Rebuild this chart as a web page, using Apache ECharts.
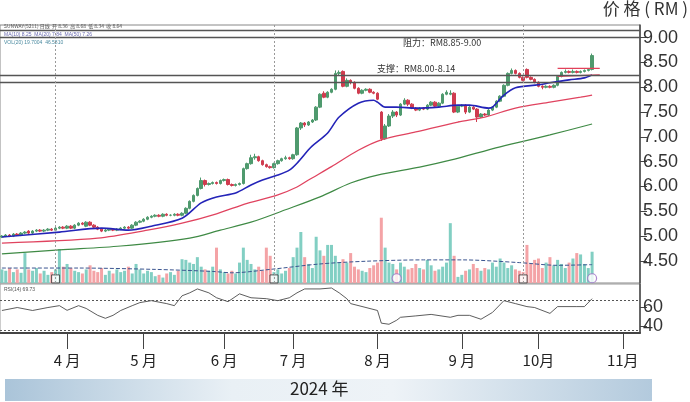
<!DOCTYPE html>
<html><head><meta charset="utf-8">
<script src="https://cdn.jsdelivr.net/npm/echarts@6/dist/echarts.min.js"></script>
<style>html,body{margin:0;padding:0;background:#fff}#c{width:690px;height:402px}</style>
</head><body><div id="c"></div>
<script>
// ---------- data ----------
const startDate = '2024-03-06';
const endDate = '2024-11-07';
const holidays = ['2024-03-28','2024-04-10','2024-04-11','2024-05-01','2024-05-22','2024-06-03','2024-06-17','2024-07-08','2024-09-16','2024-10-31'];
const monthNames = {4:'4 月',5:'5 月',6:'6 月',7:'7 月',8:'8 月',9:'9 月',10:'10月',11:'11月'};

// [open, close, low, high]
const candles = [
[4.98,5.00,4.96,5.02],[5.00,5.02,4.98,5.04],[5.02,5.00,4.98,5.04],[5.00,5.04,4.98,5.06],[5.04,5.02,5.00,5.06],
[5.02,5.06,5.00,5.08],[5.06,5.08,5.04,5.10],[5.10,5.06,5.04,5.12],[5.06,5.10,5.04,5.12],[5.10,5.12,5.08,5.14],
[5.12,5.10,5.08,5.14],[5.10,5.12,5.08,5.14],[5.12,5.14,5.10,5.16],[5.14,5.12,5.10,5.16],[5.12,5.16,5.10,5.18],
[5.16,5.18,5.14,5.20],[5.18,5.16,5.14,5.20],[5.16,5.20,5.14,5.22],[5.20,5.16,5.14,5.22],[5.16,5.22,5.14,5.24],
[5.22,5.26,5.20,5.28],[5.26,5.24,5.22,5.28],[5.20,5.28,5.18,5.30],[5.28,5.22,5.20,5.30],[5.22,5.18,5.16,5.24],
[5.18,5.14,5.12,5.20],[5.14,5.10,5.08,5.16],[5.10,5.12,5.08,5.14],[5.12,5.14,5.10,5.16],[5.14,5.12,5.10,5.16],
[5.12,5.14,5.10,5.16],[5.14,5.16,5.12,5.18],[5.16,5.18,5.14,5.20],[5.18,5.16,5.14,5.20],[5.16,5.22,5.14,5.24],
[5.22,5.28,5.20,5.30],[5.28,5.30,5.26,5.32],[5.30,5.34,5.28,5.36],[5.34,5.38,5.32,5.40],[5.38,5.40,5.36,5.42],
[5.40,5.42,5.38,5.44],[5.42,5.40,5.38,5.44],[5.40,5.44,5.38,5.46],[5.44,5.42,5.40,5.46],[5.42,5.42,5.40,5.44],
[5.42,5.44,5.40,5.46],[5.44,5.42,5.40,5.46],[5.42,5.46,5.40,5.48],[5.46,5.56,5.44,5.58],[5.56,5.70,5.54,5.72],
[5.70,5.82,5.68,5.84],[5.82,5.96,5.80,5.98],[5.96,6.12,5.94,6.18],[6.12,6.04,6.00,6.14],[6.04,6.06,6.02,6.08],
[6.06,6.08,6.04,6.10],[6.08,6.06,6.04,6.10],[6.06,6.12,6.04,6.14],[6.12,6.14,6.10,6.16],[6.14,6.04,6.02,6.16],
[6.04,6.02,6.00,6.06],[6.02,6.04,6.00,6.06],[6.04,6.06,6.02,6.08],[6.06,6.36,6.04,6.38],[6.36,6.46,6.34,6.48],
[6.46,6.58,6.44,6.64],[6.58,6.60,6.54,6.66],[6.60,6.52,6.50,6.62],[6.52,6.44,6.42,6.54],[6.44,6.40,6.38,6.46],
[6.40,6.38,6.36,6.42],[6.38,6.46,6.36,6.48],[6.46,6.52,6.44,6.54],[6.52,6.56,6.50,6.58],[6.56,6.58,6.54,6.62],
[6.58,6.56,6.54,6.60],[6.56,6.64,6.54,6.66],[6.64,7.18,6.62,7.20],[7.18,7.28,7.14,7.30],[7.28,7.24,7.20,7.30],
[7.24,7.30,7.22,7.32],[7.30,7.34,7.28,7.36],[7.34,7.60,7.32,7.62],[7.60,7.86,7.58,7.88],[7.88,7.80,7.78,7.92],
[7.80,7.90,7.78,7.92],[7.90,7.96,7.88,7.98],[7.96,8.28,7.94,8.34],[8.28,8.30,8.24,8.34],[8.32,8.02,8.00,8.34],
[8.02,8.14,8.00,8.18],[8.14,8.10,8.06,8.16],[8.10,7.98,7.96,8.12],[7.98,7.88,7.86,8.00],[7.88,7.94,7.86,7.96],
[7.94,7.96,7.92,7.98],[7.96,7.90,7.88,7.98],[7.90,7.88,7.86,7.92],[7.88,7.76,7.74,7.90],[7.50,6.96,6.92,7.52],
[6.96,7.22,6.94,7.26],[7.22,7.42,7.20,7.46],[7.42,7.50,7.38,7.54],[7.50,7.44,7.40,7.52],[7.44,7.66,7.42,7.68],
[7.66,7.74,7.64,7.78],[7.74,7.66,7.62,7.76],[7.66,7.58,7.56,7.68],[7.58,7.54,7.52,7.60],[7.54,7.58,7.52,7.60],
[7.58,7.56,7.54,7.60],[7.56,7.64,7.54,7.66],[7.64,7.70,7.62,7.72],[7.70,7.62,7.60,7.72],[7.62,7.68,7.60,7.70],
[7.68,7.86,7.66,7.88],[7.86,7.90,7.84,7.94],[7.86,7.88,7.84,7.94],[7.88,7.50,7.48,7.90],[7.50,7.62,7.48,7.64],
[7.62,7.64,7.60,7.66],[7.64,7.50,7.46,7.66],[7.50,7.60,7.48,7.62],[7.60,7.56,7.54,7.62],[7.56,7.40,7.30,7.58],
[7.40,7.46,7.38,7.48],[7.46,7.44,7.42,7.48],[7.44,7.54,7.42,7.56],[7.54,7.60,7.52,7.62],[7.60,7.72,7.58,7.74],
[7.72,7.82,7.70,7.84],[7.82,8.04,7.80,8.06],[8.04,8.28,8.02,8.30],[8.28,8.34,8.26,8.38],[8.34,8.28,8.26,8.36],
[8.28,8.20,8.18,8.30],[8.20,8.14,8.12,8.22],[8.36,8.20,8.18,8.38],[8.20,8.16,8.14,8.22],[8.16,8.10,8.08,8.18],
[8.10,8.02,8.00,8.12],[8.02,8.00,7.96,8.04],[8.00,8.02,7.98,8.04],[8.02,8.00,7.98,8.04],[8.00,8.04,7.98,8.06],
[8.04,8.22,8.02,8.24],[8.22,8.30,8.20,8.32],[8.30,8.32,8.28,8.36],[8.32,8.30,8.28,8.34],[8.30,8.32,8.28,8.36],
[8.32,8.30,8.28,8.34],[8.30,8.32,8.28,8.34],[8.32,8.34,8.30,8.36],[8.34,8.36,8.32,8.38],[8.36,8.64,8.34,8.68]
];

const volumes = [
20,18,22,16,20, 15,44,20,18,22, 14,18,12,16,20, 50,24,28,22,18,
16,14,20,26,18, 16,22,12,18,14, 20,16,18,24,14, 28,20,14,18,16,
10,12,8,14,16, 12,18,35,34,30, 28,38,24,20,18, 24,52,20,16,14,
18,14,30,52,34, 28,20,24,18,52, 40,16,20,14,18, 22,38,52,75,38,
28,22,68,48,40, 56,56,40,30,35, 30,44,24,20,18, 16,22,26,30,96,
52,30,28,20,30, 24,20,22,28,22, 20,34,26,18,20, 24,30,88,40,9,
12,18,20,28,22, 18,22,20,30,24, 36,30,22,26,20, 18,16,56,28,34,
36,22,30,38,26, 34,28,22,30,36, 44,42,28,22,46
];

// moving averages: [day index, value]
const maShort = [[0,4.98],[15,5.08],[26,5.16],[33,5.12],[39,5.20],[47,5.36],[52,5.67],[56,5.79],[61,5.87],[65,6.03],[68,6.13],[72,6.23],[75,6.33],[77,6.47],[80,6.74],[81,6.82],[85,7.08],[88,7.40],[93,7.68],[97,7.74],[98,7.70],[100,7.60],[103,7.60],[108,7.58],[114,7.60],[119,7.64],[122,7.64],[127,7.58],[128,7.60],[131,7.84],[134,7.99],[140,8.05],[143,8.09],[148,8.15],[152,8.19],[154,8.25]];
const maMid = [[0,4.86],[25,4.96],[38,5.12],[47,5.26],[56,5.45],[64,5.66],[72,5.83],[77,5.99],[80,6.13],[86,6.40],[93,6.73],[99,6.94],[108,7.10],[119,7.30],[126,7.40],[134,7.58],[143,7.70],[151,7.80],[154,7.84]];
const maLong = [[0,4.64],[15,4.72],[31,4.80],[49,4.96],[57,5.12],[65,5.28],[74,5.53],[83,5.79],[91,6.07],[98,6.23],[109,6.39],[117,6.53],[130,6.80],[143,7.04],[154,7.26]];
const volMa = [[0,22],[20,22],[40,20],[55,17],[60,15],[70,20],[83,28],[95,32],[110,34],[120,34],[135,30],[145,26],[154,27]];
const rsi = [[0,56.8],[4,60],[8,56.8],[12,60],[15,62],[17,57],[20,62],[22,59],[25,51.6],[27,48.4],[29,51.6],[31,56.8],[34,62],[36,65.3],[39,67.4],[43,64.2],[45,62],[47,72.6],[49,75.8],[51,80],[54,75.8],[56,70.5],[59,66.3],[62,74.7],[65,70.5],[69,69.5],[72,67.4],[75,70.5],[77,75.8],[79,80],[83,80],[86,81],[88,75.8],[90,69.5],[91,64.2],[95,60],[98,56.8],[99,43.2],[101,42],[103,46.3],[104,49.5],[108,51],[112,52.6],[117,49.5],[119,51.6],[122,51.6],[125,47.4],[128,54.7],[131,67.4],[134,64.2],[137,61],[139,60],[143,53.7],[145,61],[150,61],[152,61],[154,69.5]];

const priceTicks = [4.5,5,5.5,6,6.5,7,7.5,8,8.5,9];
const rsiTicks = [40,60];
const resistanceLines = [9.15, 9.0];
const supportLines = [8.25, 8.11];
const rsiBands = [67.4, 35.8];
const eventDays = [14, 71, 136];
const noteDays = [103, 154];
const pennantUpper = [[145,8.38],[156,8.38]];
const pennantLower = [[145,8.22],[156,8.25]];

// ---------- build ----------
function buildDates(){
  const out=[]; const hs=new Set(holidays);
  let d=new Date(startDate+'T00:00:00Z'); const e=new Date(endDate+'T00:00:00Z');
  while(d<=e){const wd=d.getUTCDay(); const s=d.toISOString().slice(0,10);
    if(wd!==0&&wd!==6&&!hs.has(s)) out.push(s); d=new Date(d.getTime()+86400000);}
  return out;
}
const dates = buildDates();
const firstOfMonth = new Set();
for(let i=1;i<dates.length;i++){ if(dates[i].slice(5,7)!==dates[i-1].slice(5,7)) firstOfMonth.add(i); }
const isMonthStart = (idx)=>firstOfMonth.has(idx);

const UP='#4f9a6e', DOWN='#cf3c4f';
const volData = volumes.map((v,i)=>({value:v,itemStyle:{color: candles[i][1]>=candles[i][0]?'#82cfc3':'#f4a3a6'}}));

const chart = echarts.init(document.getElementById('c'),null,{renderer:'canvas'});
const numFont = '"Liberation Sans", Arial, sans-serif';
const cjk = '"Noto Sans CJK SC", "Liberation Sans", sans-serif';

const hLine = (v)=>({yAxis:v, lineStyle:{color:'#555',width:1.3,type:'solid'}});
const vLine = (i)=>({xAxis:dates[i], lineStyle:{color:'#999',width:1,type:[2,2]}});

const option = {
  animation:false,
  backgroundColor:'#fff',
  grid:[
    {left:0, top:25, width:640, height:258, show:true, borderColor:'#888', borderWidth:1},
    {left:0, top:215, width:640, height:68},
    {left:0, top:284, width:640, height:49, show:true, borderColor:'#999', borderWidth:1}
  ],
  xAxis:[
    {type:'category', gridIndex:0, data:dates, boundaryGap:true, show:false},
    {type:'category', gridIndex:1, data:dates, boundaryGap:true, show:false},
    {type:'category', gridIndex:2, data:dates, boundaryGap:true,
      axisLine:{show:true, lineStyle:{color:'#444', width:2}},
      axisTick:{show:true, alignWithLabel:true, length:16, interval:(i)=>isMonthStart(i), lineStyle:{color:'#444',width:1}},
      axisLabel:{show:true, interval:(i)=>isMonthStart(i), margin:20, fontSize:15, color:'#222', fontFamily:cjk,
        formatter:(v)=>monthNames[+v.slice(5,7)]||''},
      splitLine:{show:false}}
  ],
  yAxis:[
    {type:'value', gridIndex:0, position:'right', min:4.054, max:9.256, scale:true,
      axisLine:{show:true, lineStyle:{color:'#444',width:1.5}},
      axisTick:{show:true, length:7, customValues:priceTicks, lineStyle:{color:'#444',width:1}},
      axisLabel:{show:true, customValues:priceTicks, margin:3, fontSize:18, color:'#333', fontFamily:numFont, formatter:(v)=>v.toFixed(2)},
      splitLine:{show:false}},
    {type:'value', gridIndex:1, min:0, max:100, show:false},
    {type:'value', gridIndex:2, position:'right', min:32.6, max:85.3,
      axisLine:{show:true, lineStyle:{color:'#444',width:1.5}},
      axisTick:{show:true, length:7, customValues:rsiTicks, lineStyle:{color:'#444',width:1}},
      axisLabel:{show:true, customValues:rsiTicks, margin:3, fontSize:18, color:'#333', fontFamily:numFont},
      splitLine:{show:false}}
  ],
  series:[
    {type:'candlestick', xAxisIndex:0, yAxisIndex:0, data:candles, barWidth:3,
      itemStyle:{color:UP, color0:DOWN, borderColor:UP, borderColor0:DOWN, borderWidth:1},
      markLine:{silent:true, symbol:'none', label:{show:false},
        data:[...resistanceLines.map(hLine), ...supportLines.map(hLine), ...eventDays.map(vLine)]}},
    {type:'line', xAxisIndex:0, yAxisIndex:0, data:maLong, showSymbol:false, smooth:0.3, lineStyle:{color:'#3f8a45',width:1.2}},
    {type:'line', xAxisIndex:0, yAxisIndex:0, data:maMid, showSymbol:false, smooth:0.3, lineStyle:{color:'#e0435f',width:1.3}},
    {type:'line', xAxisIndex:0, yAxisIndex:0, data:maShort, showSymbol:false, smooth:0.3, lineStyle:{color:'#2424b8',width:1.6}},
    {type:'line', xAxisIndex:0, yAxisIndex:0, data:pennantUpper, showSymbol:false, lineStyle:{color:'#e2415a',width:1.2}},
    {type:'line', xAxisIndex:0, yAxisIndex:0, data:pennantLower, showSymbol:false, lineStyle:{color:'#e2415a',width:1.2}},
    {type:'bar', xAxisIndex:1, yAxisIndex:1, data:volData, barWidth:3},
    {type:'line', xAxisIndex:1, yAxisIndex:1, data:volMa, showSymbol:false, smooth:0.3, lineStyle:{color:'#3b5590',width:1,type:[4,2]}},
    {type:'scatter', xAxisIndex:1, yAxisIndex:1, data:eventDays.map(i=>[i,6]), symbol:'rect', symbolSize:8,
      itemStyle:{color:'#fff', borderColor:'#333', borderWidth:1}},
    {type:'scatter', xAxisIndex:1, yAxisIndex:1, data:noteDays.map(i=>[i,7]), symbol:'circle', symbolSize:9,
      itemStyle:{color:'#fff', borderColor:'#9b6cc4', borderWidth:1.2}},
    {type:'line', xAxisIndex:2, yAxisIndex:2, data:rsi, showSymbol:false, lineStyle:{color:'#333',width:0.8},
      markLine:{silent:true, symbol:'none', label:{show:false},
        data:rsiBands.map(v=>({yAxis:v, lineStyle:{color:'#555',width:1,type:[2,2]}}))}}
  ],
  graphic:[
    {type:'text', right:2, top:0, style:{text:'价 格 ( RM )', font:'17px '+cjk, fill:'#333'}},
    {type:'text', left:4, top:24, style:{text:'SUNWAY(5211) 日线  开 8.36  高 8.68  低 8.34  收 8.64', font:'5px '+cjk, fill:'#555'}},
    {type:'text', left:4, top:32, style:{text:'MA(10) 8.25  MA(20) 7.84  MA(50) 7.26', font:'5px '+numFont, fill:'#6a6ab0'}},
    {type:'text', left:4, top:40, style:{text:'VOL(20) 19.7004  46.5810', font:'5px '+numFont, fill:'#4a8aa0'}},
    {type:'text', left:4, top:287, style:{text:'RSI(14) 69.73', font:'5px '+numFont, fill:'#555'}},
    {type:'text', left:403, top:38, style:{text:'阻力：RM8.85-9.00', font:'9px '+cjk, fill:'#333'}},
    {type:'text', left:377, top:64, style:{text:'支撑：RM8.00-8.14', font:'9px '+cjk, fill:'#333'}},
    {type:'rect', shape:{x:5,y:379,width:647,height:22}, style:{fill:new echarts.graphic.LinearGradient(0,0,1,0,[
      {offset:0,color:'#aac4d9'},{offset:0.35,color:'#e9f0f5'},{offset:0.6,color:'#eef3f7'},{offset:1,color:'#b3cadd'}])}},
    {type:'text', left:290, top:380, style:{text:'2024 年', font:'17px '+cjk, fill:'#222'}}
  ]
};
chart.setOption(option);
</script></body></html>
